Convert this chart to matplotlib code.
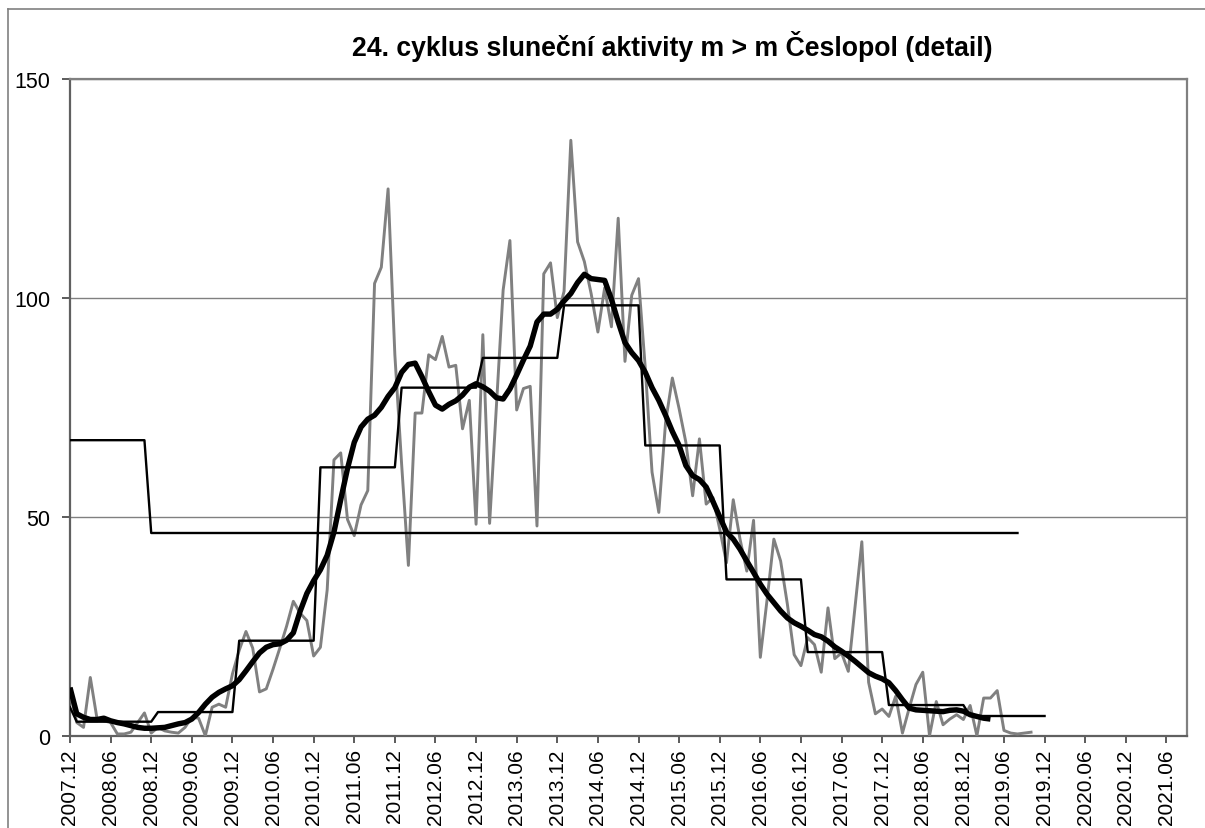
import matplotlib
matplotlib.use("Agg")
import matplotlib.pyplot as plt
from matplotlib.lines import Line2D

plt.rcParams['font.family'] = ['Liberation Sans', 'DejaVu Sans']

# ---------------- data ----------------
title = "24. cyklus sluneční aktivity m > m Česlopol (detail)"

# month index 0 = 2007.12
tick_labels = ["2007.12", "2008.06", "2008.12", "2009.06", "2009.12", "2010.06",
               "2010.12", "2011.06", "2011.12", "2012.06", "2012.12", "2013.06",
               "2013.12", "2014.06", "2014.12", "2015.06", "2015.12", "2016.06",
               "2016.12", "2017.06", "2017.12", "2018.06", "2018.12", "2019.06",
               "2019.12", "2020.06", "2020.12", "2021.06"]

# monthly values (grey), from 2007.12
monthly = [10.0, 3.0, 1.9, 13.3, 3.8, 3.4, 3.0, 0.4, 0.4, 0.8, 3.0, 5.2,
           0.6, 1.9, 1.1, 0.8, 0.6, 1.9, 4.2, 4.0, 0.0, 6.5, 7.2, 6.5,
           14.1, 19.5, 23.8, 20.0, 10.0, 10.7, 15.2, 20.0, 25.0, 30.7, 28.0, 26.3,
           18.2, 20.2, 33.3, 63.0, 64.6, 49.4, 45.7, 52.7, 56.0, 103.3, 107.0, 124.9,
           87.0, 62.0, 38.9, 73.7, 73.7, 87.0, 85.9, 91.2, 84.2, 84.6, 70.1, 76.6,
           48.3, 91.6, 48.5, 75.0, 101.8, 113.1, 74.4, 79.3, 79.8, 47.9, 105.5, 108.0,
           95.5, 101.5, 136.0, 112.8, 108.3, 101.0, 92.2, 102.3, 93.4, 118.2, 85.5, 100.6,
           104.4, 84.0, 60.2, 51.0, 71.6, 81.7, 74.7, 67.0, 54.8, 67.8, 52.9, 54.4,
           47.2, 39.5, 53.9, 44.9, 37.6, 49.2, 17.9, 31.1, 44.9, 39.9, 30.0, 18.5,
           16.0, 22.4, 20.8, 14.5, 29.2, 17.6, 18.9, 14.7, 29.6, 44.3, 12.2, 5.0,
           6.1, 4.4, 9.0, 0.6, 6.3, 11.7, 14.5, 0.0, 7.8, 2.5, 3.8, 4.8,
           3.7, 6.9, 0.0, 8.6, 8.6, 10.3, 1.2, 0.6, 0.4, 0.6, 0.8]

# smoothed values (thick black), from 2007.12
smoothed = [11.0, 5.0, 4.2, 3.7, 3.7, 4.0, 3.4, 3.0, 2.7, 2.3, 1.9, 1.7,
            1.7, 1.8, 1.9, 2.3, 2.7, 3.0, 3.8, 5.3, 7.2, 8.8, 9.9, 10.7,
            11.4, 12.8, 14.8, 16.9, 18.9, 20.2, 20.8, 21.0, 21.8, 23.5, 28.4, 32.5,
            35.4, 37.9, 41.2, 46.5, 53.9, 61.0, 67.0, 70.5, 72.3, 73.2, 75.0, 77.5,
            79.5, 83.0, 84.8, 85.1, 82.0, 78.6, 75.5, 74.6, 75.7, 76.5, 77.8, 79.6,
            80.4, 79.7, 78.7, 77.2, 76.9, 79.2, 82.4, 85.8, 89.0, 94.5, 96.3, 96.3,
            97.4, 99.3, 101.0, 103.5, 105.4, 104.4, 104.2, 104.0, 99.7, 94.5, 89.8, 87.5,
            85.7, 83.0, 79.5, 76.6, 73.2, 69.5, 66.3, 61.7, 59.4, 58.5, 56.8, 53.5,
            50.0, 46.5, 44.9, 42.6, 39.9, 37.3, 34.6, 32.3, 30.4, 28.5, 26.9, 25.8,
            25.0, 24.1, 23.1, 22.6, 21.6, 20.3, 19.3, 18.2, 17.0, 15.7, 14.4, 13.6,
            13.0, 12.1, 10.3, 8.2, 6.3, 5.9, 5.8, 5.7, 5.6, 5.5, 5.8, 5.9,
            5.6, 4.8, 4.4, 4.0, 3.8]

# annual means (thin black steps)
years = [2007, 2008, 2009, 2010, 2011, 2012, 2013, 2014, 2015, 2016, 2017, 2018, 2019]
annual_means = [6.5, 3.2, 5.4, 21.7, 61.3, 79.5, 86.3, 98.3, 66.3, 35.7, 19.1, 7.0, 4.5]

# cycle means (thin black): (value, first month, last month)
cycle_means = [67.5, 46.3]
cycle_first = ["2007.12", "2008.12"]
cycle_last = ["2008.11", "2019.08"]


def month_index(label):
    y, m = label.split(".")
    return (int(y) - 2007) * 12 + int(m) - 12


# expand annual means to monthly positions (Dec 2007 .. Dec 2019)
step_x, step_y = [], []
for yr, val in zip(years, annual_means):
    first = 0 if yr == 2007 else month_index(f"{yr}.01")
    last = month_index(f"{yr}.12")
    for mi in range(first, last + 1):
        step_x.append(mi)
        step_y.append(val)

cyc_x, cyc_y = [], []
for val, a, b in zip(cycle_means, cycle_first, cycle_last):
    for mi in range(month_index(a), month_index(b) + 1):
        cyc_x.append(mi)
        cyc_y.append(val)

# ---------------- figure ----------------
W, H = 1205, 829
fig = plt.figure(figsize=(W / 100, H / 100), dpi=100)
fig.patch.set_facecolor("white")

left, right, top, bottom = 70, 1186.7, 80, 736.7
ax = fig.add_axes([left / W, 1 - bottom / H, (right - left) / W, (bottom - top) / H])

ax.plot(range(len(monthly)), monthly, color="#808080", lw=2.1, zorder=3)
ax.plot(cyc_x, cyc_y, color="black", lw=1.7, zorder=4)
ax.plot(step_x, step_y, color="black", lw=1.7, zorder=4)
ax.plot(range(len(smoothed)), smoothed, color="black", lw=3.9, zorder=5,
        solid_joinstyle="round", solid_capstyle="butt")

ax.set_xlim(0, 165)
ax.set_ylim(0, 150)
ax.set_xticks([month_index(t) for t in tick_labels])
ax.set_xticklabels(tick_labels, rotation=90, fontsize=15)
ax.set_yticks([0, 50, 100, 150])
ax.set_yticklabels(["0", "50", "100", "150"], fontsize=15.5)
ax.tick_params(axis="x", direction="out", length=5, width=1.2, pad=4, color="#404040")
ax.tick_params(axis="y", direction="out", length=6, width=1.2, pad=8, color="#404040")

ax.yaxis.grid(True, color="#808080", lw=1.0)
ax.set_axisbelow(True)

for side in ["top", "right"]:
    ax.spines[side].set_color("#808080")
    ax.spines[side].set_linewidth(1.6)
for side in ["left", "bottom"]:
    ax.spines[side].set_color("#606060")
    ax.spines[side].set_linewidth(1.6)

fig.text(672 / W, 1 - 56 / H, title, ha="center", va="baseline",
         fontsize=19.2, fontweight="bold")

# outer chart border (partially visible)
fig.add_artist(Line2D([8 / W, 8 / W], [0, 1 - 10 / H], color="#808080", lw=1.2))
fig.add_artist(Line2D([8 / W, 1], [1 - 10 / H, 1 - 10 / H], color="#808080", lw=1.2))

fig.savefig("out.png", dpi=100, facecolor="white")
